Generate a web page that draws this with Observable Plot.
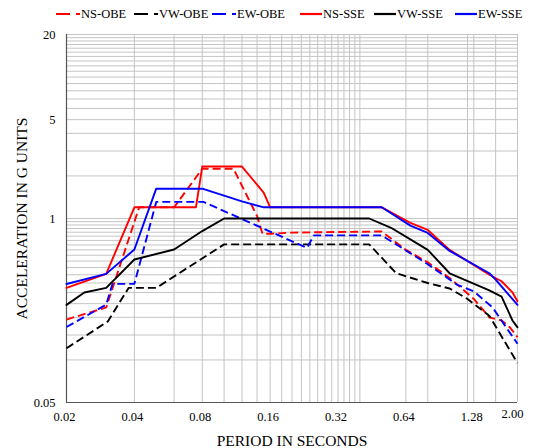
<!DOCTYPE html>
<html><head><meta charset="utf-8">
<script src="https://cdn.jsdelivr.net/npm/d3@7"></script>
<script src="https://cdn.jsdelivr.net/npm/@observablehq/plot@0.6"></script>
<style>
body{margin:0;background:#fff;font-family:"Liberation Serif","Times New Roman",serif;}
#legend{position:relative;height:28px;width:533px;}
.item{position:absolute;top:6px;height:16px;display:flex;align-items:center;font-size:12.5px;color:#000;white-space:nowrap;}
.item svg{margin-right:1px;}
#chart svg{display:block;}
</style></head><body>
<div id="legend"></div>
<div id="chart"></div>
<script>
// ---- data (period in seconds, acceleration in g) ----
const nsObeT = [0.02, 0.03, 0.042, 0.06, 0.08, 0.11, 0.14, 0.148, 0.16, 0.2, 0.5, 0.64, 0.8, 1.0, 1.28, 1.5, 1.7, 1.85, 2.0];
const nsObeA = [0.193, 0.235, 1.2, 1.2, 2.25, 2.25, 1.04, 0.78, 0.78, 0.795, 0.81, 0.6, 0.49, 0.38, 0.27, 0.2, 0.19, 0.17, 0.145];

const vwObeT = [0.02, 0.0305, 0.0377, 0.05, 0.1, 0.44, 0.58, 0.8, 1.0, 1.2, 1.5, 2.0];
const vwObeA = [0.121, 0.187, 0.323, 0.323, 0.656, 0.656, 0.41, 0.35, 0.32, 0.27, 0.205, 0.095];

const ewObeT = [0.02, 0.03, 0.032, 0.04, 0.05, 0.081, 0.233, 0.25, 0.5, 0.8, 1.08, 1.28, 1.55, 2.0];
const ewObeA = [0.171, 0.246, 0.345, 0.345, 1.31, 1.31, 0.62, 0.76, 0.76, 0.475, 0.34, 0.305, 0.235, 0.13];

const nsSseT = [0.02, 0.03, 0.04, 0.075, 0.08, 0.12, 0.15, 0.16, 0.5, 0.67, 0.8, 1.0, 1.5, 1.7, 1.9, 2.0];
const nsSseA = [0.323, 0.406, 1.2, 1.2, 2.33, 2.33, 1.52, 1.2, 1.2, 0.93, 0.83, 0.6, 0.4, 0.36, 0.3, 0.26];

const vwSseT = [0.02, 0.024, 0.03, 0.04, 0.06, 0.08, 0.1, 0.44, 0.55, 0.8, 1.0, 1.5, 1.7, 1.9, 2.0];
const vwSseA = [0.245, 0.30, 0.323, 0.513, 0.604, 0.815, 1.0, 1.0, 0.86, 0.6, 0.41, 0.31, 0.28, 0.19, 0.17];

const ewSseT = [0.02, 0.03, 0.04, 0.05, 0.08, 0.12, 0.15, 0.5, 0.67, 0.8, 1.0, 1.5, 1.6, 2.0];
const ewSseA = [0.344, 0.406, 0.604, 1.625, 1.625, 1.32, 1.2, 1.2, 0.89, 0.79, 0.59, 0.41, 0.37, 0.245];

const seriesNames = ["NS-OBE", "VW-OBE", "EW-OBE", "NS-SSE", "VW-SSE", "EW-SSE"];
const seriesT = [nsObeT, vwObeT, ewObeT, nsSseT, vwSseT, ewSseT];
const seriesA = [nsObeA, vwObeA, ewObeA, nsSseA, vwSseA, ewSseA];
const seriesColors = ["#ff0000", "#000000", "#0000ff", "#ff0000", "#000000", "#0000ff"];
const seriesDashed = [true, true, true, false, false, false];

// ---- ticks and grid ----
const xTicks = [0.02, 0.04, 0.08, 0.16, 0.32, 0.64, 1.28];
const xTickLabels = ["0.02", "0.04", "0.08", "0.16", "0.32", "0.64", "1.28"];
const xLastTick = [2.0];
const xLastLabel = ["2.00"];
const yTicks = [0.05, 1, 5, 20];
const yTickLabels = ["0.05", "1", "5", "20"];
const xGrid = [0.04, 0.06, 0.08, 0.10, 0.12, 0.14, 0.16, 0.18, 0.20, 0.22, 0.24, 0.26, 0.28, 0.30, 0.32, 0.34, 0.36, 0.38, 0.40, 0.64, 0.8, 1.2, 1.28, 1.6, 2.0];
const yGrid = [0.1, 0.15, 0.2, 0.25, 0.3, 0.35, 0.4, 0.45, 0.5, 0.55, 0.6, 0.65, 0.7, 0.75, 0.8, 0.85, 0.9, 0.95,
               1, 2, 3, 4, 5, 6, 7, 8, 9, 10, 11, 12, 13, 14, 15, 16, 17, 18, 19, 20];
const xTitle = "PERIOD IN SECONDS";
const yTitle = "ACCELERATION IN G UNITS";

// ---- legend ----
const legendLeft = [56, 134, 212, 300, 374, 455];
const legend = document.getElementById("legend");
seriesNames.forEach((name, i) => {
  const it = document.createElement("div");
  it.className = "item";
  it.style.left = legendLeft[i] + "px";
  const w = seriesDashed[i] ? 24 : 22;
  const dash = seriesDashed[i] ? ' stroke-dasharray="14,6,5,100"' : "";
  it.innerHTML = `<svg width="${w}" height="6"><line x1="0" y1="3" x2="${w}" y2="3" stroke="${seriesColors[i]}" stroke-width="2.2"${dash}/></svg><span>${name}</span>`;
  legend.appendChild(it);
});

// ---- chart ----
const lineMarks = seriesNames.map((name, i) => {
  const rows = seriesT[i].map((t, j) => ({T: t, A: seriesA[i][j], series: name}));
  return Plot.line(rows, {
    x: "T", y: "A",
    stroke: seriesColors[i],
    strokeWidth: 1.9,
    strokeDasharray: seriesDashed[i] ? "8,4" : null,
    strokeLinecap: seriesDashed[i] ? "butt" : "round",
    strokeLinejoin: "round"
  });
});

const chart = Plot.plot({
  width: 533,
  height: 420,
  marginTop: 6,
  marginBottom: 46,
  marginLeft: 66,
  marginRight: 16,
  style: {fontFamily: "'Liberation Serif', 'Times New Roman', serif", fontSize: "12.5px", background: "#fff", color: "#000"},
  x: {type: "log", domain: [0.02, 2], axis: null},
  y: {type: "log", domain: [0.05, 20], axis: null},
  marks: [
    Plot.ruleX(xGrid, {stroke: "#c4c4c4", strokeWidth: 1}),
    Plot.ruleY(yGrid, {stroke: "#c4c4c4", strokeWidth: 1}),
    Plot.ruleX([0.02], {stroke: "#555", strokeWidth: 1.2}),
    Plot.ruleY([0.05], {stroke: "#555", strokeWidth: 1.2}),
    Plot.text(yTicks, {y: d => d, text: (d, i) => yTickLabels[i], frameAnchor: "left", textAnchor: "end", dx: -11, fill: "#000"}),
    Plot.text(xTicks, {x: d => d, text: (d, i) => xTickLabels[i], frameAnchor: "bottom", lineAnchor: "top", dy: 10, dx: -2, fill: "#000"}),
    Plot.text(xLastTick, {x: d => d, text: (d, i) => xLastLabel[i], frameAnchor: "bottom", lineAnchor: "top", dy: 7, dx: -5, fill: "#000"}),
    ...lineMarks,
    Plot.text([yTitle], {text: d => d, frameAnchor: "left", textAnchor: "middle", dx: -44, rotate: -90, fontSize: 15.5, fill: "#000"}),
    Plot.text([xTitle], {text: d => d, frameAnchor: "bottom", textAnchor: "middle", dy: 43, lineAnchor: "bottom", fontSize: 15.5, fill: "#000"})
  ]
});
document.getElementById("chart").appendChild(chart);
</script>
</body></html>
